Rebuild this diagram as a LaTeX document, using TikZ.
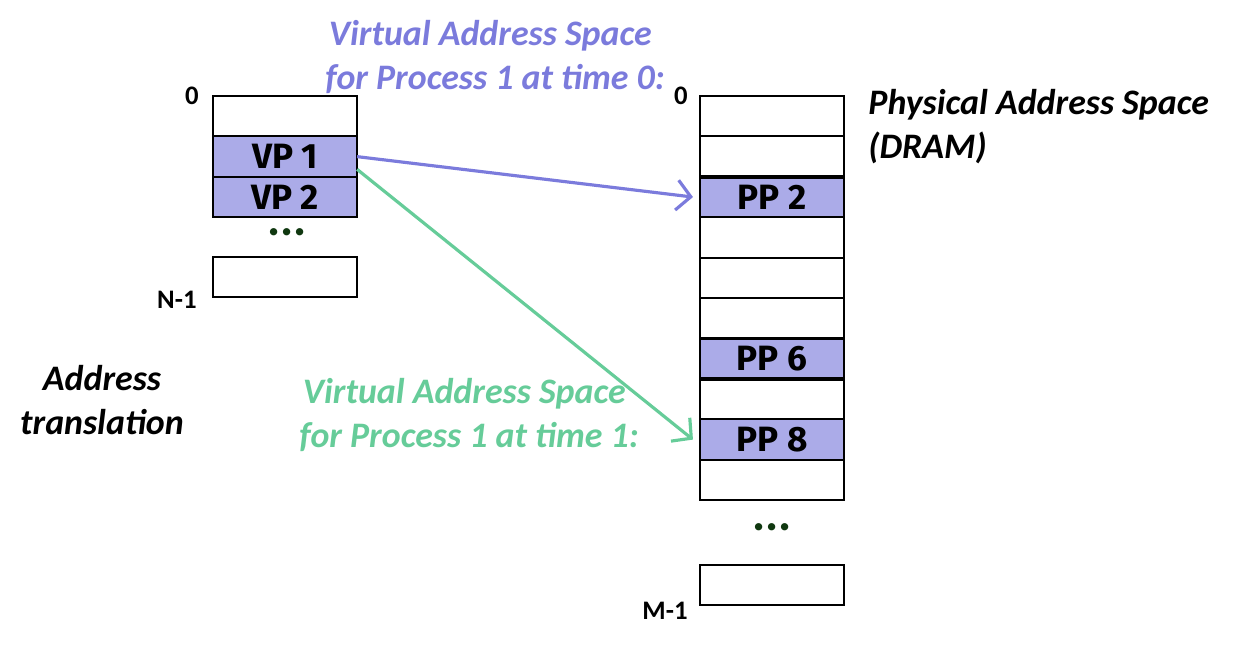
\documentclass[tikz,border=0pt]{standalone}
\usepackage{fontspec}
\setmainfont{Carlito}
\newfontfamily\cellfont{Fira Sans}
\usetikzlibrary{positioning,arrows.meta}
\definecolor{vpblue}{RGB}{123,123,220}
\definecolor{vpgreen}{RGB}{102,204,153}
\definecolor{pagefill}{RGB}{171,171,232}
\definecolor{dotgreen}{RGB}{16,56,16}
\tikzset{cell/.style={draw,line width=0.6pt,minimum width=1.44cm,minimum height=0.404cm,inner sep=0pt,outer sep=0pt,font=\cellfont\bfseries\fontsize{10}{10}\selectfont}}
\tikzset{used/.style={cell,fill=pagefill}}
\tikzset{idx/.style={font=\bfseries\fontsize{7.6}{8}\selectfont}}
\tikzset{dots/.style={text=dotgreen,inner sep=0pt,text height=2pt,text depth=0pt,font=\bfseries\fontsize{14}{14}\selectfont}}
\tikzset{caption/.style={font=\bfseries\itshape\fontsize{10.2}{12.5}\selectfont,align=left}}
\tikzset{map/.style={line width=0.9pt,-{Straight Barb[length=1.4mm,width=3mm]}}}

\begin{document}
\begin{tikzpicture}[x=0.01cm,y=-0.01cm,node distance=0pt]
\useasboundingbox (0,0) rectangle (1242,646);

% virtual pages
\node[cell,anchor=north west] (v0) at (213,96) {};
\node[used] [below=of v0] (v1) {VP 1};
\node[used] [below=of v1] (v2) {VP 2};
\node[dots] (vdots) at (287,232) {...};
\node[cell,anchor=north west] (vn) at (213,257) {};
\node[idx] [left=0.02cm of v0.north west] (vtop) {0};
\node[idx] [left=0.04cm of vn.south west,yshift=-0.6pt] (vbot) {N-1};

% physical pages
\node[cell,anchor=north west] (p0) at (700,96) {};
\node[cell] [below=of p0] (p1) {};
\node[used] [below=of p1] (p2) {PP 2};
\node[cell] [below=of p2] (p3) {};
\node[cell] [below=of p3] (p4) {};
\node[cell] [below=of p4] (p5) {};
\node[used] [below=of p5] (p6) {PP 6};
\node[cell] [below=of p6] (p7) {};
\node[used] [below=of p7] (p8) {PP 8};
\node[cell] [below=of p8] (p9) {};
\node[dots] (pdots) at (772,527) {...};
\node[cell,anchor=north west] (pm) at (700,565) {};
\node[idx] [left=0cm of p0.north west] (ptop) {0};
\node[idx] [left=0cm of pm.south west,yshift=-1.4pt] (pbot) {M-1};
\draw[line width=1pt] (p2.north west) -- (p2.north east);
\draw[line width=1pt] (p6.south west) -- (p6.south east);

% captions
\node[caption,text=vpblue,anchor=west] (time0) at (313,57) {\hspace{1pt}Virtual Address Space\\for Process 1 at time 0:};
\node[caption,text=vpgreen,anchor=west] (time1) at (287,415) {\hspace{1pt}Virtual Address Space\\for Process 1 at time 1:};
\node[caption,anchor=west] (dram) at (856,127) {Physical Address Space\\(DRAM)};
\node[caption,align=center] (xlate) at (102,400) {Address\\translation};

% mappings
\draw[map,vpblue] (v1.east) -- ([xshift=-2pt]p2.west);
\draw[map,vpgreen] (v1.-10) -- ([xshift=-2pt]p8.west);

\end{tikzpicture}
\end{document}
